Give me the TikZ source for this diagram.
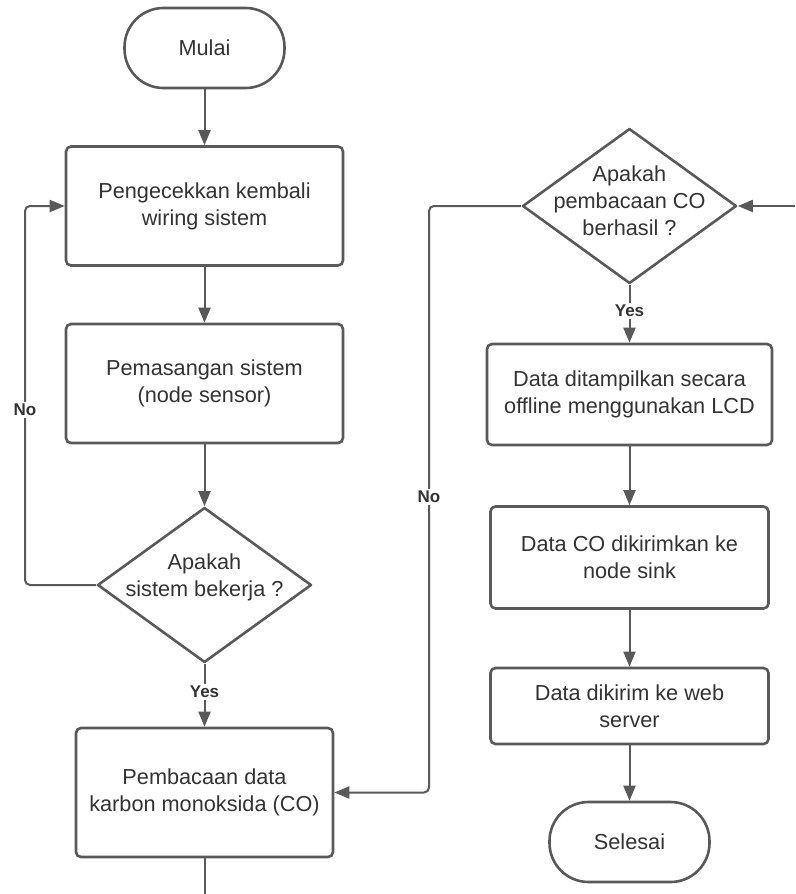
\documentclass[tikz,border=0pt]{standalone}
\usepackage{fontspec}
\setmainfont{Liberation Sans}
\usetikzlibrary{shapes.geometric,arrows.meta}
\definecolor{edge}{HTML}{595959}
\definecolor{ink}{HTML}{333333}
\tikzset{
  every node/.style={text=ink},
  procbox/.style={draw=edge, line width=2.6pt, rounded corners=5pt, fill=white,
    align=center, font=\fontsize{21.7}{26.8}\selectfont, inner sep=0pt},
  termbox/.style={draw=edge, line width=2.6pt, rounded corners=39pt, fill=white,
    minimum width=160pt, minimum height=80pt, font=\fontsize{21.7}{26.8}\selectfont},
  decision/.style={draw=edge, line width=2.6pt, diamond, inner sep=0pt,
    minimum width=214pt, minimum height=155pt, line join=round},
  dtext/.style={align=center, font=\fontsize{21.7}{26.8}\selectfont},
  flow/.style={draw=edge, line width=2pt, -{Triangle[length=15pt,width=12pt]}},
  plainline/.style={draw=edge, line width=2pt},
  lab/.style={fill=white, inner sep=2pt, font=\fontsize{17}{20}\selectfont\bfseries},
}
\begin{document}
\begin{tikzpicture}[x=1pt, y=-1pt]
\useasboundingbox (0,0) rectangle (795,894);

% left column
\node[termbox] (start) at (204.5,48) {Mulai};
\node[procbox, minimum width=277pt, minimum height=119pt] (b1) at (204.5,206)
  {Pengecekkan kembali\\wiring sistem};
\node[procbox, minimum width=277pt, minimum height=119pt] (b2) at (204.5,383.5)
  {Pemasangan sistem\\(node sensor)};
\node[decision] (d1) at (204.5,585) {};
\node[dtext] at (204.5,577) {Apakah\\sistem bekerja ?};
\node[procbox, minimum width=257pt, minimum height=129pt] (b3) at (204.5,792.5)
  {Pembacaan data\\karbon monoksida (CO)};

% right column
\node[decision] (d2) at (629.5,206) {};
\node[dtext] at (629.5,201) {Apakah\\pembacaan CO\\berhasil ?};
\node[procbox, minimum width=285pt, minimum height=101pt] (b4) at (629.5,394.5)
  {Data ditampilkan secara\\offline menggunakan LCD};
\node[procbox, minimum width=278pt, minimum height=102pt] (b5) at (629.5,557.5)
  {Data CO dikirimkan ke\\node sink};
\node[procbox, minimum width=278pt, minimum height=76pt] (b6) at (629.5,706)
  {Data dikirim ke web\\server};
\node[termbox] (stop) at (629.5,842) {Selesai};

% free ends
\coordinate (in2) at (795,206);
\coordinate (out3) at (204.5,894);

% connectors
\draw[flow] (start) -- (b1);
\draw[flow] (b1) -- (b2);
\draw[flow] (b2) -- (d1);
\draw[flow] (d1.south) -- (b3.north);
\draw[flow, rounded corners=5pt] (d1.west) -- (25,585) |- (b1.west);
\draw[plainline] (b3.south) -- (out3);

\draw[flow] (in2) -- (d2.east);
\draw[flow] (d2.south) -- (b4.north);
\draw[flow, rounded corners=5pt] (d2.west) -- (429,206) |- (b3.east);
\draw[flow] (b4) -- (b5);
\draw[flow] (b5) -- (b6);
\draw[flow] (b6) -- (stop);

% branch labels
\node[lab] at (25,410) {No};
\node[lab] at (204.5,692) {Yes};
\node[lab] at (629.5,311) {Yes};
\node[lab] at (429,497) {No};
\end{tikzpicture}
\end{document}
